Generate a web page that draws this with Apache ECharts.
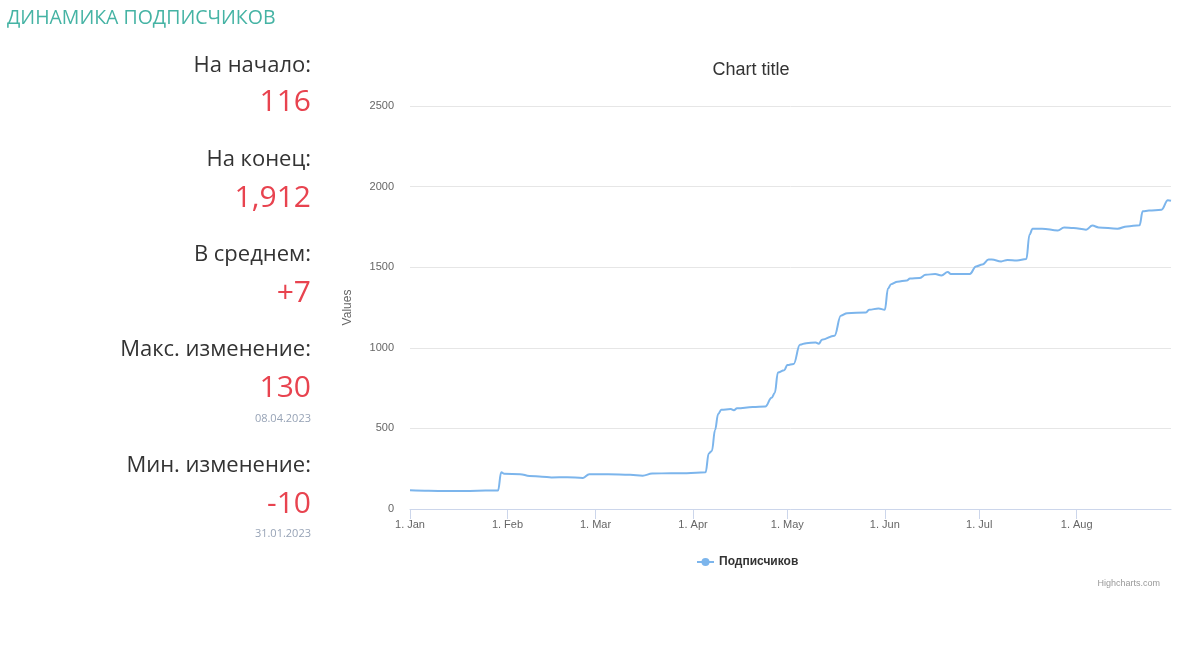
<!DOCTYPE html>
<html>
<head>
<meta charset="utf-8">
<script src="https://cdn.jsdelivr.net/npm/echarts@6/dist/echarts.min.js"></script>
<style>
  html, body { margin: 0; padding: 0; background: #fff; width: 1203px; height: 661px; overflow: hidden; }
  #chart { position: absolute; left: 0; top: 0; width: 1203px; height: 661px; }
  .t { position: absolute; font-family: "Open Sans", sans-serif; white-space: nowrap; }
  .hdr { left: 7px; color: #45b3a4; font-size: 19.5px; line-height: 19.5px; font-weight: 500; }
  .lbl { right: 892px; color: #333; font-size: 22px; line-height: 22px; text-align: right; }
  .val { right: 892px; color: #e8434f; font-size: 30px; line-height: 30px; text-align: right; }
  .dt { right: 892px; color: #97a3b6; font-size: 11px; line-height: 11px; text-align: right; }
</style>
</head>
<body>
<div id="chart"></div>
<div id="panel"></div>
<script>
// ---- data ----
const headerText = 'ДИНАМИКА ПОДПИСЧИКОВ';
const statLabels = ['На начало:', 'На конец:', 'В среднем:', 'Макс. изменение:', 'Мин. изменение:'];
const statValues = ['116', '1,912', '+7', '130', '-10'];
const statDates = ['', '', '', '08.04.2023', '31.01.2023'];

const dates = [
  '2023-01-01','2023-01-07','2023-01-13','2023-01-20','2023-01-25','2023-01-29','2023-01-30','2023-01-31',
  '2023-02-05','2023-02-08','2023-02-12','2023-02-15','2023-02-20','2023-02-25','2023-02-27',
  '2023-03-05','2023-03-12','2023-03-16','2023-03-19','2023-03-25','2023-03-30',
  '2023-04-05','2023-04-06','2023-04-07','2023-04-08','2023-04-09','2023-04-10','2023-04-13','2023-04-14',
  '2023-04-15','2023-04-20','2023-04-24','2023-04-26','2023-04-27','2023-04-28','2023-04-30',
  '2023-05-01','2023-05-03','2023-05-05','2023-05-07','2023-05-10','2023-05-11','2023-05-12','2023-05-16',
  '2023-05-18','2023-05-20','2023-05-26','2023-05-27','2023-05-30',
  '2023-06-01','2023-06-02','2023-06-03','2023-06-05','2023-06-08','2023-06-09','2023-06-12','2023-06-14',
  '2023-06-17','2023-06-19','2023-06-21','2023-06-22','2023-06-28','2023-06-30',
  '2023-07-02','2023-07-04','2023-07-05','2023-07-08','2023-07-10','2023-07-13','2023-07-16','2023-07-17',
  '2023-07-18','2023-07-21','2023-07-26','2023-07-28','2023-07-31',
  '2023-08-04','2023-08-06','2023-08-08','2023-08-14','2023-08-17','2023-08-21','2023-08-22','2023-08-24',
  '2023-08-28','2023-08-30','2023-08-31'
];
const subscribers = [
  116,113,111,112,114,115,228,218,
  216,205,200,196,197,193,216,
  215,212,207,220,222,222,
  228,345,360,490,590,615,620,613,
  625,632,636,690,720,847,860,
  893,900,1019,1029,1033,1025,1050,1075,
  1199,1215,1219,1236,1244,
  1236,1368,1395,1410,1418,1430,1433,1453,
  1458,1449,1470,1458,1458,1505,
  1516,1547,1547,1536,1545,1542,1551,1702,
  1739,1739,1728,1747,1743,
  1733,1758,1747,1739,1753,1760,1847,1851,
  1857,1915,1912
];
const monthNames = ['Jan','Feb','Mar','Apr','May','Jun','Jul','Aug','Sep','Oct','Nov','Dec'];
const yTicks = { min: 0, max: 2500, interval: 500 };
const seriesName = 'Подписчиков';
const chartTitle = 'Chart title';
const yAxisTitle = 'Values';
const creditsText = 'Highcharts.com';

// ---- left panel ----
const panel = document.getElementById('panel');
function addText(cls, text, centerY) {
  const d = document.createElement('div');
  d.className = 't ' + cls;
  d.textContent = text;
  panel.appendChild(d);
  const fs = parseFloat(getComputedStyle(d).fontSize);
  d.style.top = (centerY - fs * 0.53) + 'px';
}
addText('hdr', headerText, 17);
const lblY = [64, 158, 253, 348, 464];
const valY = [101, 197, 292, 387, 503];
const dtY = [0, 0, 0, 418, 533];
statLabels.forEach((l, i) => {
  addText('lbl', l, lblY[i]);
  addText('val', statValues[i], valY[i]);
  if (statDates[i]) addText('dt', statDates[i], dtY[i]);
});

// ---- chart ----
const chart = echarts.init(document.getElementById('chart'), null, { renderer: 'canvas' });
const font = '"Liberation Sans", Arial, Helvetica, sans-serif';
chart.setOption({
  animation: false,
  title: {
    text: chartTitle, left: 746, top: 56, textAlign: 'center',
    textStyle: { fontFamily: font, fontSize: 18, fontWeight: 'normal', color: '#333333' }
  },
  legend: {
    data: [seriesName], left: 691, top: 551, itemWidth: 17, itemHeight: 10, itemGap: 5,
    textStyle: { fontFamily: font, fontSize: 12, fontWeight: 'bold', color: '#333333' }
  },
  graphic: [{
    type: 'text', right: 43, top: 579,
    style: { text: creditsText, fontFamily: font, fontSize: 9, fill: '#999999' }
  }],
  grid: { left: 410, right: 32, top: 106, bottom: 152, containLabel: false },
  xAxis: {
    type: 'time',
    min: '2023-01-01', max: '2023-08-31',
    minInterval: 28 * 86400000, maxInterval: 31 * 86400000,
    axisLine: { lineStyle: { color: '#ccd6eb', width: 1 } },
    axisTick: { show: true, length: 10, lineStyle: { color: '#ccd6eb' } },
    splitLine: { show: false },
    axisLabel: {
      showMaxLabel: false, margin: 10, color: '#666666', fontFamily: font, fontSize: 11,
      formatter: function (v) { const d = new Date(v); return '1. ' + monthNames[d.getMonth()]; }
    }
  },
  yAxis: {
    type: 'value', min: yTicks.min, max: yTicks.max, interval: yTicks.interval,
    name: yAxisTitle, nameLocation: 'middle', nameGap: 56, nameRotate: 90,
    nameTextStyle: { color: '#666666', fontFamily: font, fontSize: 12 },
    axisLine: { show: false }, axisTick: { show: false },
    splitLine: { lineStyle: { color: '#e6e6e6', width: 1 } },
    axisLabel: {
      margin: 16, color: '#666666', fontFamily: font, fontSize: 11,
      formatter: function (v) { return String(v); }
    }
  },
  series: [{
    name: seriesName, type: 'line',
    data: dates.map((d, i) => [d, subscribers[i]]),
    smooth: 0.4, smoothMonotone: 'x',
    symbol: 'circle', symbolSize: 8, showSymbol: false,
    lineStyle: { color: '#7cb5ec', width: 2 },
    itemStyle: { color: '#7cb5ec' }
  }]
});
</script>
</body>
</html>
